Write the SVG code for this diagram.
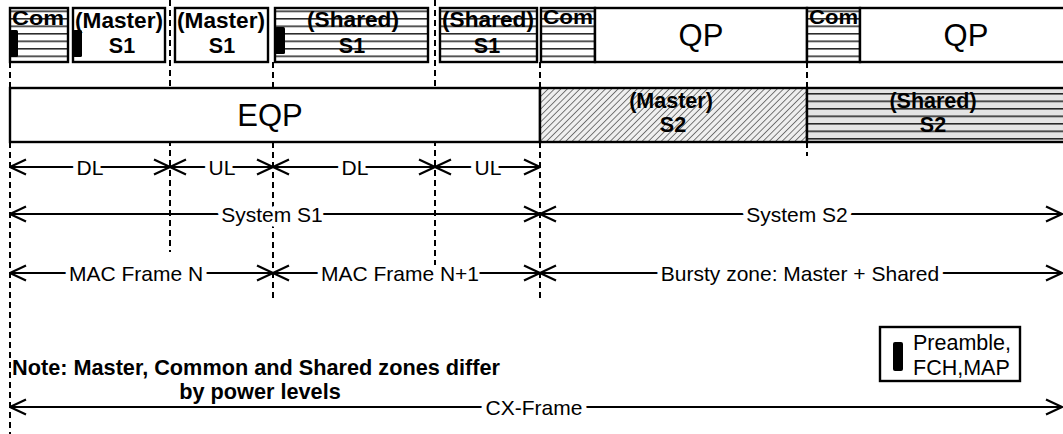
<svg xmlns="http://www.w3.org/2000/svg" width="1063" height="434" viewBox="0 0 1063 434">
<style>
.box{stroke:#000;stroke-width:2.4;}
.w{fill:#fff;}
.dash{stroke:#000;stroke-width:2;stroke-dasharray:6,4;fill:none;}
.arr{stroke:#000;stroke-width:2;fill:none;marker-start:url(#ah);marker-end:url(#ah);}
.b{font-family:"Liberation Sans",Arial,sans-serif;font-weight:bold;fill:#000;}
.n{font-family:"Liberation Sans",Arial,sans-serif;fill:#000;}
.lbl{font-family:"Liberation Sans",Arial,sans-serif;font-size:21px;fill:#000;text-anchor:middle;stroke:#fff;stroke-width:10px;stroke-linejoin:round;paint-order:stroke;}
.pre{fill:#000;}
</style>
<defs>
<pattern id="hz" patternUnits="userSpaceOnUse" width="20" height="7.5" y="3">
<line x1="0" y1="0.8" x2="20" y2="0.8" stroke="#000" stroke-width="1.3"/>
</pattern>
<pattern id="dg" patternUnits="userSpaceOnUse" width="4.5" height="4.5" patternTransform="rotate(45)">
<line x1="0" y1="0" x2="0" y2="4.5" stroke="#000" stroke-width="1"/>
</pattern>
<marker id="ah" viewBox="0 0 18 18" refX="17" refY="9" markerWidth="18" markerHeight="18" markerUnits="userSpaceOnUse" orient="auto-start-reverse">
<path d="M1,1.5 L17,9 L1,16.5" fill="none" stroke="#000" stroke-width="2.2"/>
</marker>
</defs>

<g id="dashed-guides">
<line class="dash" x1="10" y1="62" x2="10" y2="434"/>
<line class="dash" x1="170" y1="0" x2="170" y2="252"/>
<line class="dash" x1="273" y1="62" x2="273" y2="302"/>
<line class="dash" x1="435" y1="0" x2="435" y2="265"/>
<line class="dash" x1="540" y1="62" x2="540" y2="302"/>
<line class="dash" x1="807" y1="62" x2="807" y2="156"/>
</g>

<g id="com1">
<rect class="w" x="10" y="8" width="58" height="54"/>
<text class="b" x="12" y="25" font-size="21" textLength="52" lengthAdjust="spacingAndGlyphs">Com</text>
<rect x="10" y="8" width="58" height="54" fill="url(#hz)"/>
<rect class="pre" x="10" y="30" width="8" height="27" rx="1.5"/>
<rect class="box" x="10" y="8" width="58" height="54" fill="none"/>
</g>

<g id="master-s1-a">
<rect class="box w" x="73" y="8" width="92" height="54"/>
<rect class="pre" x="73" y="30" width="9" height="27" rx="1.5"/>
<text class="b" x="119" y="28" font-size="21.5" text-anchor="middle" textLength="88" lengthAdjust="spacingAndGlyphs">(Master)</text>
<text class="b" x="122" y="53" font-size="21.5" text-anchor="middle">S1</text>
</g>

<g id="master-s1-b">
<rect class="box w" x="175" y="8" width="93" height="54"/>
<text class="b" x="221" y="28" font-size="21.5" text-anchor="middle" textLength="88" lengthAdjust="spacingAndGlyphs">(Master)</text>
<text class="b" x="222" y="53" font-size="21.5" text-anchor="middle">S1</text>
</g>

<g id="shared-s1-a">
<rect class="w" x="275" y="8" width="153" height="54"/>
<text class="b" x="353" y="27" font-size="21.5" text-anchor="middle" textLength="92" lengthAdjust="spacingAndGlyphs">(Shared)</text>
<text class="b" x="352" y="53" font-size="21.5" text-anchor="middle">S1</text>
<rect x="275" y="8" width="153" height="54" fill="url(#hz)"/>
<rect class="pre" x="275" y="27" width="10" height="27" rx="1.5"/>
<rect class="box" x="275" y="8" width="153" height="54" fill="none"/>
</g>

<g id="shared-s1-b">
<rect class="w" x="440" y="8" width="97" height="54"/>
<text class="b" x="488" y="27" font-size="21.5" text-anchor="middle" textLength="92" lengthAdjust="spacingAndGlyphs">(Shared)</text>
<text class="b" x="487" y="53" font-size="21.5" text-anchor="middle">S1</text>
<rect x="440" y="8" width="97" height="54" fill="url(#hz)"/>
<rect class="box" x="440" y="8" width="97" height="54" fill="none"/>
</g>

<g id="com2">
<rect class="w" x="541" y="8" width="54" height="54"/>
<text class="b" x="543" y="24" font-size="20" textLength="50" lengthAdjust="spacingAndGlyphs">Com</text>
<rect x="541" y="8" width="54" height="54" fill="url(#hz)"/>
<rect class="box" x="541" y="8" width="54" height="54" fill="none"/>
</g>

<g id="qp1">
<rect class="box w" x="595" y="8" width="212" height="54"/>
<text class="n" x="701" y="46" font-size="31" text-anchor="middle">QP</text>
</g>

<g id="com3">
<rect class="w" x="807" y="8" width="53" height="54"/>
<text class="b" x="809" y="24" font-size="20" textLength="49" lengthAdjust="spacingAndGlyphs">Com</text>
<rect x="807" y="8" width="53" height="54" fill="url(#hz)"/>
<rect class="box" x="807" y="8" width="53" height="54" fill="none"/>
</g>

<g id="qp2">
<rect class="box w" x="860" y="8" width="210" height="54"/>
<text class="n" x="966" y="46" font-size="31" text-anchor="middle">QP</text>
</g>

<g id="eqp">
<rect class="box w" x="10" y="88" width="530" height="54"/>
<text class="n" x="270" y="126" font-size="31" text-anchor="middle">EQP</text>
</g>

<g id="master-s2">
<rect x="540" y="88" width="267" height="54" fill="#efefef"/>
<rect x="540" y="88" width="267" height="54" fill="url(#dg)"/>
<text class="b" x="671" y="108" font-size="21.5" text-anchor="middle">(Master)</text>
<text class="b" x="673" y="132" font-size="21.5" text-anchor="middle">S2</text>
<rect class="box" x="540" y="88" width="267" height="54" fill="none"/>
</g>

<g id="shared-s2">
<rect x="807" y="88" width="263" height="54" fill="#e4e4e4"/>
<text class="b" x="933" y="108" font-size="21.5" text-anchor="middle">(Shared)</text>
<text class="b" x="933" y="132" font-size="21.5" text-anchor="middle">S2</text>
<rect x="807" y="88" width="263" height="54" fill="url(#hz)"/>
<rect class="box" x="807" y="88" width="263" height="54" fill="none"/>
</g>

<g id="connectors">
<line class="arr" x1="10" y1="167" x2="170" y2="167"/>
<line class="arr" x1="170" y1="167" x2="273" y2="167"/>
<line class="arr" x1="273" y1="167" x2="435" y2="167"/>
<line class="arr" x1="435" y1="167" x2="540" y2="167"/>
<line class="arr" x1="10" y1="214" x2="540" y2="214"/>
<line class="arr" x1="540" y1="214" x2="1062" y2="214"/>
<line class="arr" x1="10" y1="273" x2="273" y2="273"/>
<line class="arr" x1="273" y1="273" x2="540" y2="273"/>
<line class="arr" x1="540" y1="273" x2="1062" y2="273"/>
<line class="arr" x1="10" y1="407" x2="1062" y2="407"/>
</g>

<g id="labels">
<text class="lbl" x="90" y="174.5">DL</text>
<text class="lbl" x="222" y="174.5">UL</text>
<text class="lbl" x="355" y="174.5">DL</text>
<text class="lbl" x="488" y="174.5">UL</text>
<text class="lbl" x="272" y="221.5">System S1</text>
<text class="lbl" x="797" y="221.5">System S2</text>
<text class="lbl" x="136" y="280.5">MAC Frame N</text>
<text class="lbl" x="400" y="280.5">MAC Frame N+1</text>
<text class="lbl" x="800" y="280.5">Bursty zone: Master + Shared</text>
<text class="lbl" x="534" y="414.5">CX-Frame</text>
</g>

<g id="note">
<text class="b" x="12" y="375" font-size="21.7">Note: Master, Common and Shared zones differ</text>
<text class="b" x="260" y="399" font-size="21.7" text-anchor="middle">by power levels</text>
</g>

<g id="legend">
<rect class="box w" x="880" y="327" width="140" height="54"/>
<rect class="pre" x="893" y="342" width="10" height="29" rx="2"/>
<text class="n" x="913" y="350" font-size="21.5">Preamble,</text>
<text class="n" x="913" y="375" font-size="21.5">FCH,MAP</text>
</g>
</svg>
